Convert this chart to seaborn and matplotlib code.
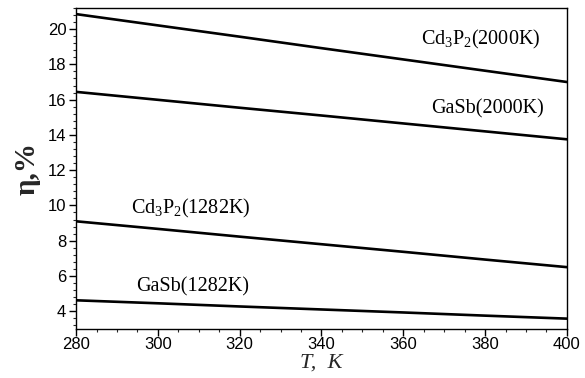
import numpy as np
import pandas as pd
import matplotlib
matplotlib.use("Agg")
import matplotlib.pyplot as plt
import seaborn as sns
from matplotlib.ticker import MultipleLocator, AutoMinorLocator

# temperature grid (K) and efficiency (%)
temps = [280, 300, 320, 340, 360, 380, 400]
cd3p2_2000 = [20.85, 20.21, 19.57, 18.92, 18.28, 17.64, 17.00]
gasb_2000 = [16.44, 15.99, 15.54, 15.10, 14.65, 14.20, 13.75]
cd3p2_1282 = [9.10, 8.67, 8.23, 7.80, 7.37, 6.93, 6.50]
gasb_1282 = [4.62, 4.45, 4.27, 4.10, 3.93, 3.75, 3.58]

series_names = ["Cd3P2(2000K)", "GaSb(2000K)", "Cd3P2(1282K)", "GaSb(1282K)"]
series_vals = [cd3p2_2000, gasb_2000, cd3p2_1282, gasb_1282]

df = pd.concat([pd.DataFrame({"T": temps, "eta": v, "series": n})
                for n, v in zip(series_names, series_vals)])

sns.set_style("ticks")
plt.rcParams["mathtext.default"] = "regular"
plt.rcParams["font.family"] = ["Liberation Sans", "DejaVu Sans"]

fig = plt.figure(figsize=(5.85, 3.78), dpi=100)
ax = fig.add_axes([0.13, 0.13, 0.839, 0.849])

sns.lineplot(data=df, x="T", y="eta", units="series", estimator=None,
             color="black", linewidth=1.9, ax=ax, legend=False)

ax.set_xlim(280, 400)
ax.set_ylim(3.0, 21.2)
ax.xaxis.set_major_locator(MultipleLocator(20))
ax.xaxis.set_minor_locator(AutoMinorLocator(4))
ax.yaxis.set_major_locator(MultipleLocator(2))
ax.yaxis.set_minor_locator(AutoMinorLocator(5))
ax.tick_params(which="major", length=5, width=1, labelsize=12, colors="black", pad=2)
ax.tick_params(axis="x", which="major", pad=1)
ax.tick_params(which="minor", length=2.5, width=0.8)
for s in ax.spines.values():
    s.set_linewidth(1.0)
    s.set_color("black")

serif = ["Liberation Serif", "DejaVu Serif"]
lab_kw = dict(fontsize=14.5, family=serif, ha="center", va="center", color="black")
ax.text(379.0, 19.4, r"Cd$_{3}$P$_{2}$(2000K)", **lab_kw)
ax.text(380.5, 15.5, "GaSb(2000K)", **lab_kw)
ax.text(308.0, 9.8, r"Cd$_{3}$P$_{2}$(1282K)", **lab_kw)
ax.text(308.5, 5.4, "GaSb(1282K)", **lab_kw)

ax.set_xlabel("T,  K", fontsize=16, family=serif, style="italic", labelpad=1)
ax.set_ylabel("η,%", fontsize=21, family=serif, fontweight="bold", labelpad=5)

plt.savefig("out.png", dpi=100)
